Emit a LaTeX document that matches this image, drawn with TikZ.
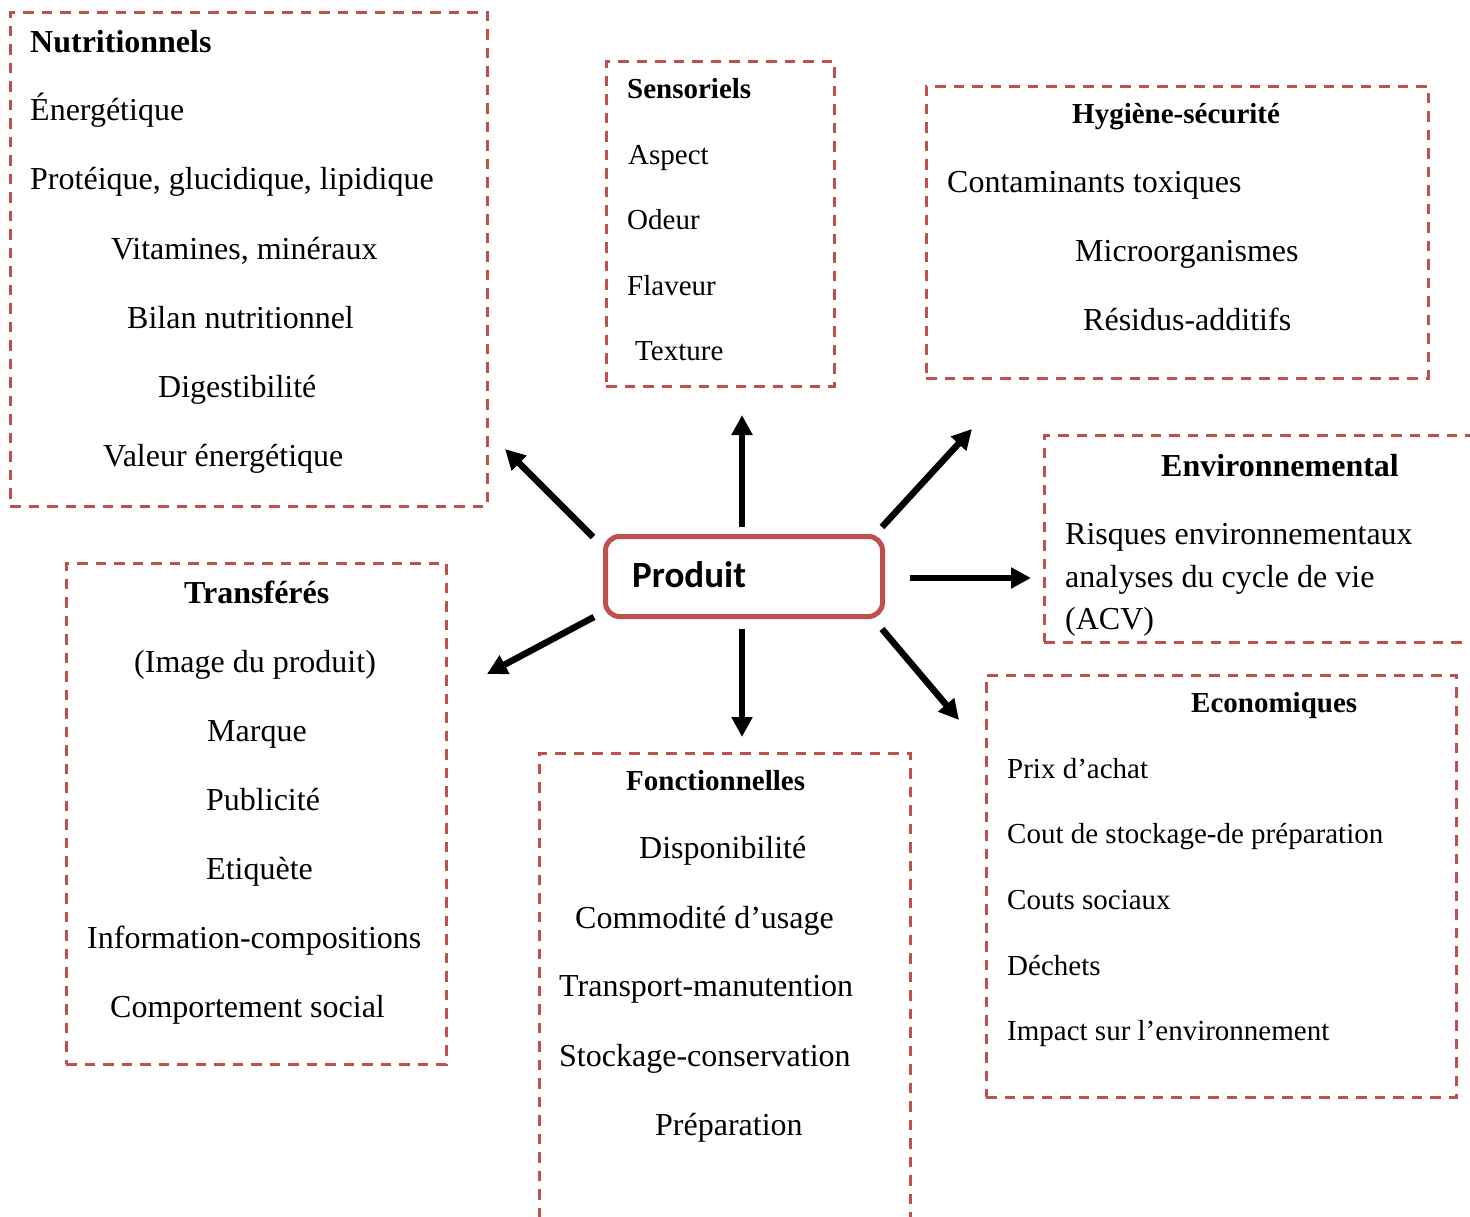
\documentclass[tikz,border=0pt]{standalone}
\usepackage{fontspec}
\setmainfont{Liberation Serif}
\newfontfamily\carlito{Carlito}
\usetikzlibrary{arrows.meta}
\definecolor{boxred}{RGB}{192,80,77}
\begin{document}
\begin{tikzpicture}[x=1pt,y=-1pt,
  dbox/.style={draw=boxred, line width=3pt, dash pattern=on 10.5pt off 8pt, inner sep=0pt},
  tb/.style={anchor=base west, inner sep=0pt, font=\fontsize{32}{38}\selectfont},
  ts/.style={anchor=base west, inner sep=0pt, font=\fontsize{29}{35}\selectfont},
  arr/.style={line width=6.5pt, -{Triangle[length=20pt,width=20pt]}}]
\useasboundingbox (0,0) rectangle (1470,1216);
\clip (0,0) rectangle (1470,1216);
% boxes
\node[dbox, minimum width=477pt, minimum height=494pt] (nutbox) at (248.5,259) {};
\node[dbox, minimum width=228pt, minimum height=325pt] (senbox) at (720,223.5) {};
\node[dbox, minimum width=502pt, minimum height=292pt] (hygbox) at (1177,232) {};
\node[dbox, minimum width=436pt, minimum height=207pt] (envbox) at (1262,538.5) {};
\node[dbox, minimum width=380pt, minimum height=501pt] (trabox) at (256,813.5) {};
\node[dbox, minimum width=371pt, minimum height=487pt] (fonbox) at (724.5,996.5) {};
\node[dbox, minimum width=470pt, minimum height=422pt] (ecobox) at (1221,886) {};
% Produit
\node[draw=boxred, line width=5pt, rounded corners=14pt, minimum width=277pt, minimum height=80pt] (prod) at (744,576.5) {};
\node[anchor=base west, inner sep=0pt, font=\carlito\bfseries\fontsize{37}{44}\selectfont] (prodt) at (632,587) {Produit};
% Nutritionnels
\node[tb] (n0) at (30,52) {\bfseries Nutritionnels};
\node[tb] (n1) at (30,120) {Énergétique};
\node[tb] (n2) at (30,189) {Protéique, glucidique, lipidique};
\node[tb] (n3) at (111,259) {Vitamines, minéraux};
\node[tb] (n4) at (127,328) {Bilan nutritionnel};
\node[tb] (n5) at (158,397) {Digestibilité};
\node[tb] (n6) at (103,466) {Valeur énergétique};
% Sensoriels
\node[ts] (s0) at (627,98) {\bfseries Sensoriels};
\node[ts] (s1) at (628,164) {Aspect};
\node[ts] (s2) at (627,229) {Odeur};
\node[ts] (s3) at (627,295) {Flaveur};
\node[ts] (s4) at (635,360) {Texture};
% Hygiene
\node[ts] (h0) at (1072,123) {\bfseries Hygiène-sécurité};
\node[tb] (h1) at (947,192) {Contaminants toxiques};
\node[tb] (h2) at (1075,261) {Microorganismes};
\node[tb] (h3) at (1083,330) {Résidus-additifs};
% Environnemental
\node[tb] (e0) at (1161,476) {\bfseries Environnemental};
\node[tb] (e1) at (1065,544) {Risques environnementaux};
\node[tb] (e2) at (1065,587) {analyses du cycle de vie};
\node[tb] (e3) at (1065,629) {(ACV)};
% Transferes
\node[tb] (t0) at (184,603) {\bfseries Transférés};
\node[tb] (t1) at (134,672) {(Image du produit)};
\node[tb] (t2) at (207,741) {Marque};
\node[tb] (t3) at (206,810) {Publicité};
\node[tb] (t4) at (206,879) {Etiquète};
\node[tb] (t5) at (87,948) {Information-compositions};
\node[tb] (t6) at (110,1017) {Comportement social};
% Fonctionnelles
\node[ts] (f0) at (626,790) {\bfseries Fonctionnelles};
\node[tb] (f1) at (639,858) {Disponibilité};
\node[tb] (f2) at (575,928) {Commodité d’usage};
\node[tb] (f3) at (559,996) {Transport-manutention};
\node[tb] (f4) at (559,1066) {Stockage-conservation};
\node[tb] (f5) at (655,1135) {Préparation};
% Economiques
\node[ts] (c0) at (1191,712) {\bfseries Economiques};
\node[ts] (c1) at (1007,778) {Prix d’achat};
\node[ts] (c2) at (1007,843) {Cout de stockage-de préparation};
\node[ts] (c3) at (1007,909) {Couts sociaux};
\node[ts] (c4) at (1007,975) {Déchets};
\node[ts] (c5) at (1007,1040) {Impact sur l’environnement};
% arrows
\coordinate (aus) at (742,527); \coordinate (aue) at (742,415);
\coordinate (auls) at (593,537); \coordinate (aule) at (505,449);
\coordinate (aurs) at (882,527); \coordinate (aure) at (972,429);
\coordinate (ars) at (910,578); \coordinate (are) at (1031,578);
\coordinate (alls) at (594,617); \coordinate (alle) at (487,674);
\coordinate (ads) at (742,629); \coordinate (ade) at (742,737);
\coordinate (alrs) at (882,629); \coordinate (alre) at (959,720);
\draw[arr] (aus) -- (aue);
\draw[arr] (auls) -- (aule);
\draw[arr] (aurs) -- (aure);
\draw[arr] (ars) -- (are);
\draw[arr] (alls) -- (alle);
\draw[arr] (ads) -- (ade);
\draw[arr] (alrs) -- (alre);
\end{tikzpicture}
\end{document}
